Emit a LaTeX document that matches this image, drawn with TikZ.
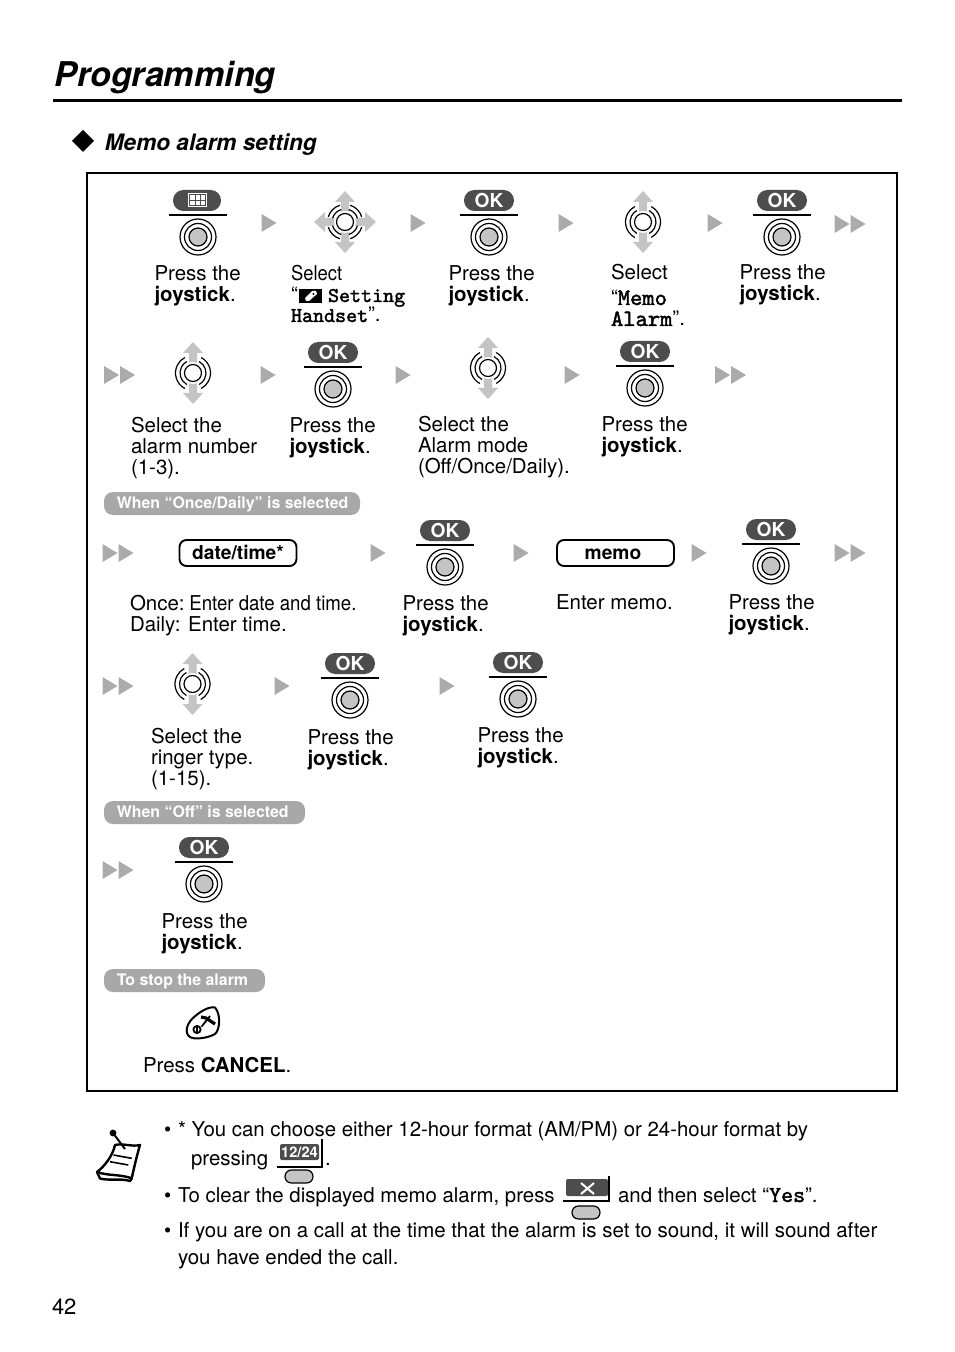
\documentclass[tikz,border=0pt]{standalone}
\usepackage{fontspec}
\setmainfont{TeX Gyre Heros}
\newfontfamily\courb{lmmono10-regular.otf}[FakeBold=1.8]
\usetikzlibrary{calc}
\definecolor{darkkey}{HTML}{4D4D4D}
\definecolor{arrowgray}{HTML}{ABABAB}
\definecolor{joygray}{HTML}{C4C4C4}
\definecolor{labelgray}{HTML}{A8A8A8}
\tikzset{
  txt/.style={anchor=base west,inner sep=0pt,outer sep=0pt,font=\fontsize{10.23}{10.5}\selectfont},
  txtb/.style={txt,font=\fontsize{10.2}{10.5}\selectfont},
  labeltxt/.style={anchor=base west,inner sep=0pt,font=\fontsize{7.95}{8}\selectfont\bfseries,text=white},
  keytxt/.style={inner sep=0pt,font=\fontsize{9.6}{10}\selectfont\bfseries,text=white},
  labelpill/.style={fill=labelgray,rounded corners=4.5pt},
  keypill/.style={fill=darkkey,rounded corners=5.2pt},
  softkeyline/.style={line width=1pt},
  ring/.style={line width=0.6pt},
  tribox/.style={fill=arrowgray},
  modebox/.style={draw,line width=0.95pt,rounded corners=3.5pt,inner sep=0pt,minimum width=58.5pt,minimum height=13pt,text height=7.7pt,text depth=1.3pt,font=\fontsize{9.6}{10}\selectfont\bfseries},
  softbutton/.style={draw,line width=0.6pt,fill=joygray,rounded corners=3.2pt}
}
\newcommand{\tln}[1]{\hbox{#1}}
\newcommand{\stk}[1]{\vtop{\baselineskip=10.5pt\lineskip=0pt #1}}
\newcommand{\cond}[1]{\scalebox{0.9}[1]{#1}}
\newcommand{\joypress}[2]{%
  \draw[ring] (#1,#2) circle[radius=18];
  \draw[ring] (#1,#2) circle[radius=13.5];
  \draw[ring,fill=joygray] (#1,#2) circle[radius=9];
}
\newcommand{\okpress}[3]{%
  \fill[keypill] (#2-25,#3-10) rectangle (#2+25,#3+11);
  \node[keytxt] (#1) at (#2,#3+0.7) {OK};
  \draw[softkeyline] (#2-29,#3+15) -- (#2+29,#3+15);
  \joypress{#2}{#3+37}
}
\newcommand{\oneTri}[2]{\fill[tribox] (#1-7.5,#2-9) -- (#1+7.5,#2) -- (#1-7.5,#2+9) -- cycle;}
\newcommand{\twoTri}[2]{\oneTri{#1-8}{#2}\oneTri{#1+8}{#2}}
\newcommand{\vArrows}[2]{%
  \fill[joygray] (#1-4,#2+20) -- (#1-4,#2-20) -- (#1-10,#2-20) -- (#1,#2-31) -- (#1+10,#2-20) -- (#1+4,#2-20) -- (#1+4,#2+20) -- (#1+10,#2+20) -- (#1,#2+31) -- (#1-10,#2+20) -- cycle;
}
\newcommand{\hArrows}[2]{%
  \fill[joygray] (#1+20,#2-4) -- (#1-20,#2-4) -- (#1-20,#2-10) -- (#1-31,#2) -- (#1-20,#2+10) -- (#1-20,#2+4) -- (#1+20,#2+4) -- (#1+20,#2+10) -- (#1+31,#2) -- (#1+20,#2-10) -- cycle;
}
\newcommand{\joyTwo}[2]{%
  \vArrows{#1}{#2}
  \fill[white] (#1,#2) circle[radius=11];
  \draw[ring] (#1,#2) circle[radius=8.5];
  \foreach \r in {13,17.5}{
    \draw[ring] ($(#1,#2)+(-62:\r)$) arc[start angle=-62,end angle=62,radius=\r];
    \draw[ring] ($(#1,#2)+(118:\r)$) arc[start angle=118,end angle=242,radius=\r];
  }
}
\newcommand{\joyFour}[2]{%
  \vArrows{#1}{#2}\hArrows{#1}{#2}
  \fill[white] (#1,#2) circle[radius=11];
  \draw[ring] (#1,#2) circle[radius=8.5];
  \foreach \a in {45,135,225,315}{
    \foreach \r in {13,17.5}{
      \draw[ring] ($(#1,#2)+(\a-28:\r)$) arc[start angle=\a-28,end angle=\a+28,radius=\r];
    }
  }
}
\newcommand{\pressj}[3]{\node[txt] (#1) at (#2-0.5,#3) {\stk{\tln{Press the}\tln{\textbf{joystick}.}}};}
\begin{document}
\begin{tikzpicture}[x=0.5pt,y=-0.5pt]
\useasboundingbox (0,0) rectangle (954,1352);
\fill[white] (0,0) rectangle (954,1352);
% heading
\node[anchor=base west,inner sep=0pt,font=\fontsize{17.05}{20}\selectfont\bfseries\itshape] (title) at (54,87) {Programming};
\draw[line width=1.5pt] (53,100.5) -- (902,100.5);
\fill (72,141) -- (83,130) -- (94,141) -- (83,152) -- cycle;
\node[anchor=base west,inner sep=0pt,font=\fontsize{11.3}{12}\selectfont\bfseries\itshape] (sub) at (104.5,151) {Memo alarm setting};
\draw[line width=1pt] (87,173) rectangle (897,1091);
% row 1
\fill[keypill] (173,190) rectangle (221,211);
\fill[white] (188,193) rectangle (207,207);
\draw[line width=0.3pt,darkkey] (189.5,194.5) rectangle (205.5,205.5) (189.5,200) -- (205.5,200) (195,194.5) -- (195,205.5) (200.5,194.5) -- (200.5,205.5);
\draw[softkeyline] (169,215) -- (227,215);
\joypress{198}{237}
\pressj{t1}{155}{281}
\oneTri{269}{223}
\joyFour{345}{222}
\node[txt] (t2) at (291,281) {\stk{\tln{\cond{Select}}\tln{“}}};
\fill (299,289) rectangle (322,303);
\fill[white] (305,298) -- (312,291) -- (316,291) -- (317,294) -- (309,301) -- (306,301) -- cycle;
\fill[black] (313.5,294) circle[radius=1.2];
\node[txt,font=\fontsize{10.5}{10.5}\selectfont\courb] (t2b) at (328,302) {Setting};
\node[txt] (t2c) at (291,322) {{\fontsize{10.5}{10.5}\selectfont\courb Handset}”.};
\oneTri{418}{223}
\okpress{k1}{489}{200}
\pressj{t3}{449}{281}
\oneTri{566}{223}
\joyTwo{643}{222}
\node[txt] (t4) at (611,280) {Select};
\node[txt] (t4b) at (611,305) {“{\fontsize{11.7}{10.5}\selectfont\courb Memo}};
\node[txt] (t4c) at (611,326) {{\fontsize{11.7}{10.5}\selectfont\courb Alarm}”.};
\oneTri{715}{223}
\okpress{k2}{782}{200}
\pressj{t5}{740}{280}
\twoTri{850}{224}
% row 2
\twoTri{119.5}{375}
\joyTwo{193}{373}
\node[txt] (t6) at (131,432) {\stk{\tln{Select the}\tln{alarm number}\tln{(1-3).}}};
\oneTri{268}{375}
\okpress{k3}{333}{352}
\pressj{t7}{290}{432}
\oneTri{403}{375}
\joyTwo{488}{368}
\node[txt] (t8) at (418,431) {\stk{\tln{Select the}\tln{Alarm mode}\tln{(Off/Once/Daily).}}};
\oneTri{572}{375}
\okpress{k4}{645}{351}
\pressj{t9}{602}{431}
\twoTri{730.5}{375}
% label
\fill[labelpill] (104,492) rectangle (360,515);
\node[labeltxt] (l1) at (116.5,508) {When “Once/Daily” is selected};
% row 3
\twoTri{118}{553}
\node[modebox] (datebox) at (238,553) {date/time*};
\node[txt] (t10) at (130,610) {\stk{\tln{Once:\kern2.4pt\scalebox{0.91}[1]{Enter date and time.}}\tln{Daily: Enter time.}}};
\oneTri{378}{553}
\okpress{k5}{445}{530}
\pressj{t11}{403}{610}
\oneTri{521}{553}
\node[modebox] (memobox) at (615.5,553) {\kern-1.25pt memo\kern1.25pt};
\node[txt] (t12) at (556,609) {Enter memo.};
\oneTri{699}{553}
\okpress{k6}{771}{529}
\pressj{t13}{729}{609}
\twoTri{850}{553}
% row 4
\twoTri{118}{686}
\joyTwo{192.5}{684}
\node[txt] (t14) at (151,743) {\stk{\tln{Select the}\tln{ringer type.}\tln{(1-15).}}};
\oneTri{282}{686}
\okpress{k7}{350}{663}
\pressj{t15}{308}{744}
\oneTri{447}{686}
\okpress{k8}{518}{662}
\pressj{t16}{478}{742}
% off
\fill[labelpill] (104,801) rectangle (305,824);
\node[labeltxt] (l2) at (116.5,817) {When “Off” is selected};
\twoTri{118}{870}
\okpress{k9}{204}{847}
\pressj{t17}{162}{928}
% stop
\fill[labelpill] (104,969) rectangle (265,992);
\node[labeltxt] (l3) at (116.5,985) {To stop the alarm};
\draw[line width=1pt,line join=round] (215,1007.5) .. controls (221,1014) and (220,1030) .. (215,1034) .. controls (208,1038) and (195,1040) .. (190,1037) .. controls (184,1033) and (187,1024) .. (192,1019) .. controls (198,1013) and (208,1006) .. (215,1007.5) -- cycle;
\draw[line width=0.9pt] (197,1029.5) circle[radius=3.6];
\draw[line width=0.8pt] (197,1026.5) -- (197,1033);
\draw[line width=0.9pt] (201.5,1026.7) -- (210,1016);
\draw[line width=1.6pt] (201,1017) -- (206,1018) -- (215,1024);
\node[txt] (t18) at (143,1072) {Press \textbf{CANCEL}.};
% note icon
\begin{scope}[line width=1.2pt,line join=round]
\draw (97,1172) -- (100,1178.5) .. controls (110,1181) and (120,1178) .. (130,1181) -- (132,1178);
\draw[fill=white] (97,1172) .. controls (108,1176) and (120,1174) .. (131.7,1178.3) .. controls (134,1168) and (137,1155) .. (140,1145) .. controls (132,1147) and (123,1143) .. (115,1145) .. controls (113,1155) and (105,1166) .. (97,1172) -- cycle;
\draw[line width=0.8pt] (113.5,1155) -- (131.7,1158.3) (110,1161.7) -- (128.3,1165);
\draw[line width=1pt] (113,1133) -- (125,1149);
\fill (113,1133) circle[radius=3.4];
\end{scope}
% notes
\node[txt] (b1) at (164,1136) {•};
\node[txtb] (n1) at (178,1136) {* You can choose either 12-hour format (AM/PM) or 24-hour format by};
\node[txt] (n1b) at (191,1165) {pressing};
\fill[darkkey,rounded corners=1pt] (280,1144) rectangle (319,1160);
\node[inner sep=0pt,font=\fontsize{7.3}{8}\selectfont\bfseries,text=white] (key1224) at (299.5,1152) {12/24};
\draw[line width=0.7pt] (277,1167) -- (322,1167) -- (322,1139);
\draw[softbutton] (285,1170) rectangle (313,1183);
\node[txt] (n1c) at (325,1165) {.};
\node[txt] (b2) at (164,1202) {•};
\node[txtb] (n2) at (178,1202) {To clear the displayed memo alarm, press};
\fill[darkkey,rounded corners=1pt] (566,1179) rectangle (608,1196);
\draw[white,line width=1pt] (581,1183) -- (594,1194) (594,1183) -- (581,1194);
\draw[line width=0.7pt] (563,1201) -- (609,1201) -- (609,1176);
\draw[softbutton] (572,1206) rectangle (600,1219);
\node[txt] (n2b) at (618,1202) {and then select “{\fontsize{11.4}{10}\selectfont\courb Yes}”.};
\node[txt] (b3) at (164,1237) {•};
\node[txt] (n3) at (178,1237) {If you are on a call at the time that the alarm is set to sound, it will sound after};
\node[txt] (n3b) at (178,1264) {you have ended the call.};
\node[txt,font=\fontsize{11}{11}\selectfont] (page) at (52,1314.5) {42};
\end{tikzpicture}
\end{document}
